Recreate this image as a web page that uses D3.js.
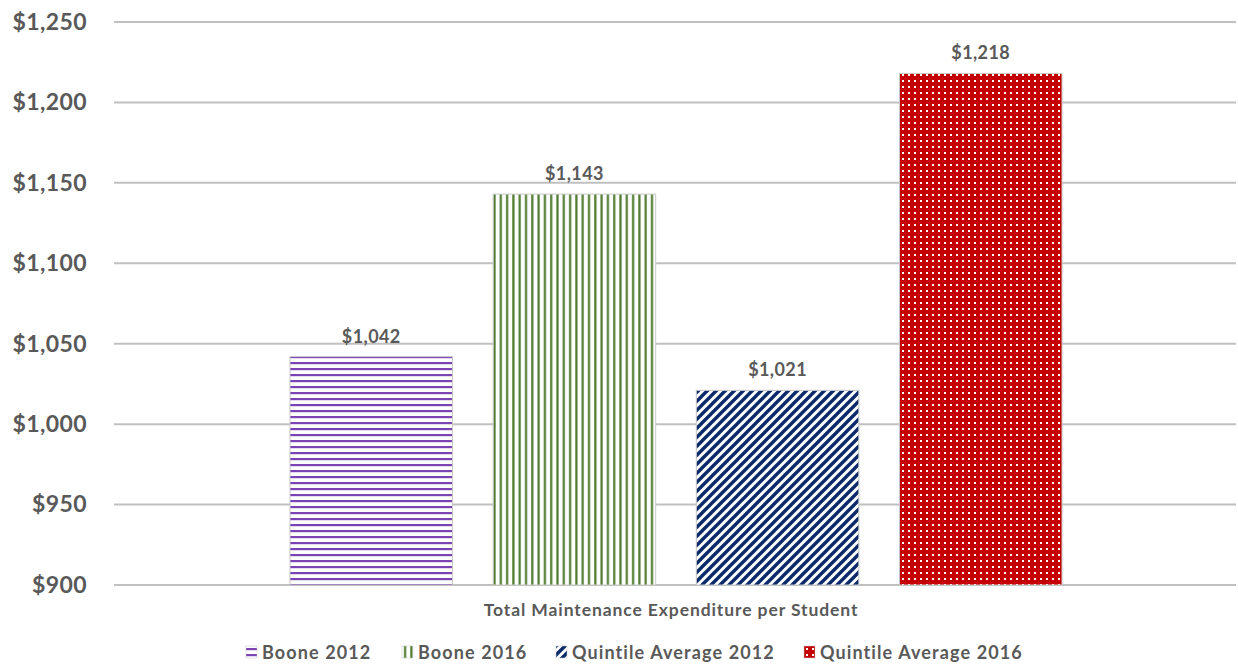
<!DOCTYPE html>
<html><head><meta charset="utf-8">
<script src="https://cdn.jsdelivr.net/npm/d3@7"></script>
<style>body{margin:0;background:#fff;font-family:Lato,"Open Sans",sans-serif;}</style>
</head><body><svg id="c" width="1238" height="665"></svg>
<script>
const categories = ["Boone 2012","Boone 2016","Quintile Average 2012","Quintile Average 2016"];
const values = [1042,1143,1021,1218];
const valueLabels = ["$1,042","$1,143","$1,021","$1,218"];
const yTicks = [900,950,1000,1050,1100,1150,1200,1250];
const axisTitle = "Total Maintenance Expenditure per Student";
const colors = ["#7a45b3","#4e7a2e","#0a2a6a","#c40000"];

(function(){
const svg = d3.select("#c");
const defs = svg.append("defs");
const p0 = defs.append("pattern").attr("id","p0").attr("patternUnits","userSpaceOnUse").attr("width",8).attr("height",6);
p0.append("rect").attr("width",8).attr("height",6).attr("fill","#fff");
p0.append("rect").attr("y",2).attr("width",8).attr("height",2.2).attr("fill",colors[0]);
const p1 = defs.append("pattern").attr("id","p1").attr("patternUnits","userSpaceOnUse").attr("width",6.3).attr("height",8);
p1.append("rect").attr("width",6.3).attr("height",8).attr("fill","#fff");
p1.append("rect").attr("x",2).attr("width",2.2).attr("height",8).attr("fill",colors[1]);
const p2 = defs.append("pattern").attr("id","p2").attr("patternUnits","userSpaceOnUse").attr("width",9).attr("height",9);
p2.append("rect").attr("width",9).attr("height",9).attr("fill","#fff");
p2.append("path").attr("d","M-2,11 L11,-2 M-2,2 L2,-2 M7,11 L11,7").attr("stroke",colors[2]).attr("stroke-width",3.4);
const p3 = defs.append("pattern").attr("id","p3").attr("patternUnits","userSpaceOnUse").attr("width",6).attr("height",6);
p3.append("rect").attr("width",6).attr("height",6).attr("fill",colors[3]);
p3.append("rect").attr("x",2).attr("y",2).attr("width",2).attr("height",2).attr("fill","#fff");

const mLeft = 114, mRight = 1236, mTop = 22, mBottom = 585;
const y = d3.scaleLinear().domain([900,1250]).range([mBottom, mTop]);
const x = d3.scaleBand().domain(categories).range([290, 1062]).paddingInner(0.2).paddingOuter(0);

svg.append("g").selectAll("line").data(yTicks).join("line")
  .attr("x1",mLeft).attr("x2",mRight).attr("y1",d=>y(d)).attr("y2",d=>y(d))
  .attr("stroke","#c0c0c0").attr("stroke-width",2);

const yAxis = d3.axisLeft(y).tickValues(yTicks).tickSize(0).tickPadding(0)
  .tickFormat(d=>"$"+d3.format(",")(d));
const ga = svg.append("g").attr("transform",`translate(87,0)`).call(yAxis);
ga.select(".domain").remove();
ga.selectAll("text").attr("font-family","Lato,sans-serif").attr("font-size",23).attr("letter-spacing",0.4)
  .attr("font-weight","bold").attr("fill","#595959");

svg.append("g").selectAll("rect").data(values).join("rect")
  .attr("x",(d,i)=>x(categories[i])).attr("width",x.bandwidth())
  .attr("y",d=>y(d)).attr("height",d=>y(900)-y(d))
  .attr("fill",(d,i)=>`url(#p${i})`).attr("stroke","#c8c8c8").attr("stroke-width",1);

svg.append("g").selectAll("text").data(values).join("text")
  .attr("x",(d,i)=>x(categories[i])+x.bandwidth()/2).attr("y",d=>y(d)-14)
  .attr("text-anchor","middle").attr("font-size",18).attr("letter-spacing",0.4).attr("font-weight","bold").attr("fill","#595959")
  .text((d,i)=>valueLabels[i]);

svg.append("text").attr("x",671).attr("y",616).attr("text-anchor","middle")
  .attr("font-size",17.5).attr("letter-spacing",0.9).attr("font-weight","bold").attr("fill","#595959").text(axisTitle);

const legX = [246, 402, 556, 804];
const lg = svg.append("g").selectAll("g").data(categories).join("g")
  .attr("transform",(d,i)=>`translate(${legX[i]},646)`);
lg.append("rect").attr("width",11).attr("height",12).attr("fill",(d,i)=>`url(#p${i})`).attr("stroke","#c8c8c8").attr("stroke-width",0.5);
lg.append("text").attr("x",16).attr("y",12.5).attr("font-size",18).attr("letter-spacing",1.1).attr("font-weight","bold").attr("fill","#595959").text(d=>d);
})();
</script></body></html>
